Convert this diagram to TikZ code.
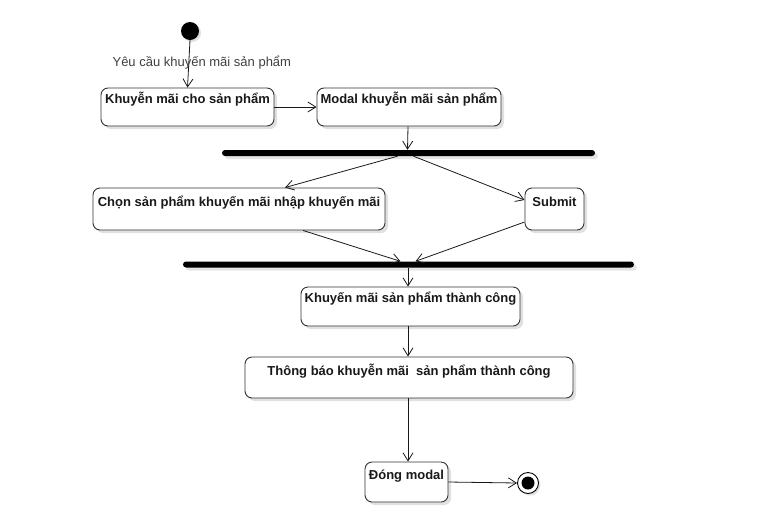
\documentclass[tikz,border=0pt]{standalone}
\usepackage{fontspec}
\setmainfont{Liberation Sans}
\usetikzlibrary{arrows.meta,shadows,calc}
\begin{document}
\begin{tikzpicture}[x=1pt,y=-1pt,
  box/.style={draw=black!80, line width=0.9pt, rounded corners=7pt, fill=white, inner sep=0pt,
    drop shadow={shadow xshift=3pt, shadow yshift=-3pt, fill=black!12, opacity=1}},
  lbl/.style={anchor=north, inner sep=0pt, font=\fontsize{13}{15}\selectfont\bfseries, text=black!90},
  bar/.style={fill=black, inner sep=0pt, minimum height=6pt, rounded corners=3pt,
    drop shadow={shadow xshift=3pt, shadow yshift=-3pt, fill=black!10, opacity=1}},
  arr/.style={-{Straight Barb[length=8pt,width=10pt]}, line width=0.8pt, draw=black!90},
]
\useasboundingbox (0,0) rectangle (770,528);
% start
\node[circle, fill=black, minimum size=18pt, inner sep=0pt,
  drop shadow={shadow xshift=2pt, shadow yshift=-2pt, fill=black!12, opacity=1}] (start) at (190,31) {};
% boxes
\node[box, minimum width=173pt, minimum height=38pt] (n1) at (187.5,107) {};
\node[lbl] (t1) at ([yshift=-4pt]n1.north) {Khuyễn mãi cho sản phẩm};
\node[box, minimum width=184pt, minimum height=38pt] (n2) at (409,107) {};
\node[lbl] (t2) at ([yshift=-4pt]n2.north) {Modal khuyễn mãi sản phẩm};
\node[bar, minimum width=373pt] (b1) at (408.5,153) {};
\node[box, minimum width=292pt, minimum height=42pt] (n3) at (239,209) {};
\node[lbl] (t3) at ([yshift=-8pt]n3.north) {Chọn sản phẩm khuyến mãi nhập khuyến mãi};
\node[box, minimum width=59pt, minimum height=42pt] (n4) at (554.5,209) {};
\node[lbl] (t4) at ([yshift=-9pt]n4.north) {Submit};
\node[bar, minimum width=451pt] (b2) at (408.5,264.5) {};
\node[box, minimum width=219pt, minimum height=39pt] (n5) at (410.5,306.5) {};
\node[lbl] (t5) at ([yshift=-5pt]n5.north) {Khuyến mãi sản phẩm thành công};
\node[box, minimum width=328pt, minimum height=41pt] (n6) at (409,377.5) {};
\node[lbl] (t6) at ([yshift=-7pt]n6.north) {Thông báo khuyễn mãi \ sản phẩm thành công};
\node[box, minimum width=83pt, minimum height=40pt] (n7) at (406.5,482) {};
\node[lbl] (t7) at ([yshift=-8pt]n7.north) {Đóng modal};
% end
\node[circle, draw=black, line width=0.9pt, fill=white, minimum size=21pt, inner sep=0pt,
  drop shadow={shadow xshift=2pt, shadow yshift=-2pt, fill=black!12, opacity=1}] (end) at (528,483) {};
\node[circle, fill=black, minimum size=13pt, inner sep=0pt] (endin) at (end.center) {};
% connectors
\draw[arr] (start.south) -- node[pos=0.47, xshift=13pt, inner sep=0pt, font=\fontsize{13}{15}\selectfont, text=black!75] (lab) {Yêu cầu khuyến mãi sản phẩm} (n1.north);
\draw[arr] (n1.east) -- (n2.west);
\draw[arr] ([xshift=-1pt]n2.south) -- ([xshift=-1pt]b1.north);
\draw[arr] ([xshift=-11pt]b1.south) -- ([xshift=46pt]n3.north);
\draw[arr] ([xshift=5pt]b1.south) -- ([yshift=9pt]n4.west);
\draw[arr] ([xshift=64pt]n3.south) -- ([xshift=-8pt]b2.north);
\draw[arr] ([yshift=-13pt]n4.west) -- ([xshift=7pt]b2.north);
\draw[arr] ([xshift=-0.5pt]b2.south) -- ([xshift=-2.5pt]n5.north);
\draw[arr] ([xshift=-2.5pt]n5.south) -- ([xshift=-1pt]n6.north);
\draw[arr] ([xshift=-1pt]n6.south) -- ([xshift=1.5pt]n7.north);
\draw[arr] (n7.east) -- (end.west);
\end{tikzpicture}
\end{document}
